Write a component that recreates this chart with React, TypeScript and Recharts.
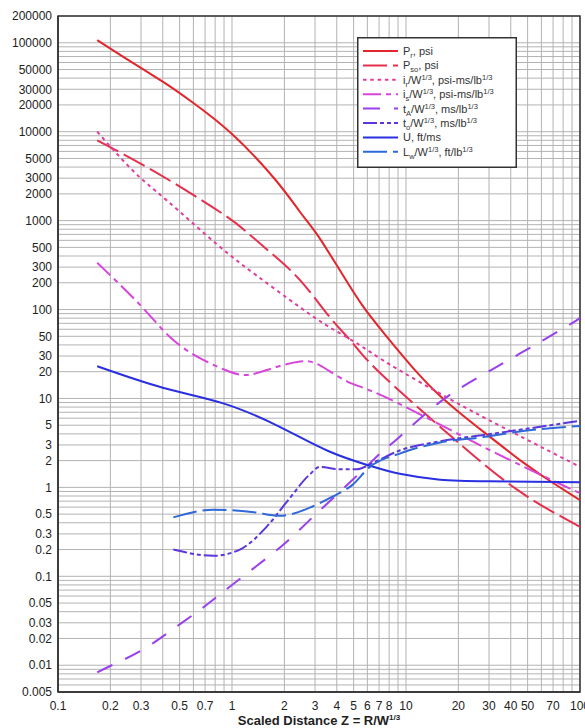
import React from 'react';
import { LineChart, Line, XAxis, YAxis, CartesianGrid, Legend, ReferenceArea } from 'recharts';

// ---- data (Scaled distance Z vs parameter) ----
const prZ = [0.168, 0.236, 0.4, 0.6, 1.0, 1.77, 2.46, 3.08, 4.15, 5.6, 7.6, 11.6, 15.6, 20, 28.4, 48, 70, 100];
const prVal = [107000, 70000, 36500, 21000, 9400, 2900, 1250, 700, 280, 112, 52, 19.5, 10.8, 7.1, 4.1, 1.86, 1.12, 0.72];

const psoZ = [0.168, 0.37, 0.853, 1.22, 1.66, 2.46, 3.65, 4.94, 7.1, 18.3, 43.9, 100];
const psoVal = [8000, 3440, 1250, 740, 440, 214, 82, 42, 19.3, 3.7, 0.93, 0.36];

const irZ = [0.168, 0.27, 0.42, 0.82, 1.39, 2.46, 3.65, 5.4, 8.1, 18.3, 35.6, 100];
const irVal = [10000, 3630, 1700, 540, 240, 106, 63, 40, 24, 9.6, 4.8, 1.7];

const isZ = [0.168, 0.296, 0.44, 0.65, 0.97, 1.27, 1.72, 2.46, 3.2, 4.6, 7.9, 28.4, 100];
const isVal = [335, 113, 49, 28.6, 20, 18.5, 22, 26, 23.5, 15.5, 10, 2.8, 0.86];

const taZ = [0.168, 0.204, 0.304, 0.452, 0.67, 1.0, 1.88, 2.9, 4.9, 7.4, 8.9, 15.3, 31, 82, 100];
const taVal = [0.0083, 0.01, 0.0148, 0.025, 0.0434, 0.08, 0.21, 0.46, 1.2, 2.6, 3.5, 8.8, 21, 63, 82];

const toZ = [0.46, 0.78, 1.11, 1.58, 2.07, 2.8, 3.2, 4.1, 5.2, 6.5, 9.2, 15.7, 28.4, 47, 100];
const toVal = [0.2, 0.17, 0.2, 0.36, 0.69, 1.4, 1.7, 1.6, 1.6, 1.9, 2.6, 3.3, 3.9, 4.5, 5.6];

const uZ = [0.168, 0.4, 0.89, 1.88, 3.6, 6.2, 9.2, 15.7, 30, 100];
const uVal = [23, 13.2, 8.8, 4.8, 2.55, 1.75, 1.42, 1.22, 1.17, 1.14];

const lwZ = [0.46, 0.78, 1.3, 1.88, 2.2, 2.9, 3.8, 4.9, 6.2, 9.2, 15.7, 28.4, 47, 100];
const lwVal = [0.46, 0.56, 0.53, 0.48, 0.5, 0.61, 0.79, 1.06, 1.7, 2.4, 3.2, 3.7, 4.3, 4.9];

const xTicks = [0.1, 0.2, 0.3, 0.5, 0.7, 1, 2, 3, 4, 5, 6, 7, 8, 10, 20, 30, 40, 50, 70, 100];
const yTicks = [0.005, 0.01, 0.02, 0.03, 0.05, 0.1, 0.2, 0.3, 0.5, 1, 2, 3, 5, 10, 20, 30, 50, 100, 200, 300, 500,
  1000, 2000, 3000, 5000, 10000, 20000, 30000, 50000, 100000, 200000];

const X_MIN = 0.1, X_MAX = 100, Y_MIN = 0.005, Y_MAX = 200000;

// minor log grid values
const xGrid: number[] = [];
for (let e = -1; e <= 1; e++) for (let k = 1; k <= 9; k++) xGrid.push(parseFloat((k * Math.pow(10, e)).toPrecision(6)));
xGrid.push(100);
const yGrid: number[] = [];
for (let e = -3; e <= 5; e++) for (let k = 1; k <= 9; k++) {
  const v = parseFloat((k * Math.pow(10, e)).toPrecision(6));
  if (v >= Y_MIN && v <= Y_MAX) yGrid.push(v);
}

const toPoints = (zs: number[], vs: number[]) => zs.map((z, i) => ({ z, v: vs[i] }));

type Seg = { t: string; s?: 'sub' | 'sup' };
type Curve = 'natural' | 'monotone';

const series: { id: string; color: string; dash?: string; curve: Curve; label: Seg[]; data: { z: number; v: number }[] }[] = [
  { id: 'pr', color: '#e2262c', curve: 'natural', label: [{ t: 'P' }, { t: 'r', s: 'sub' }, { t: ', psi' }], data: toPoints(prZ, prVal) },
  { id: 'pso', color: '#e6304e', dash: '24 6', curve: 'natural', label: [{ t: 'P' }, { t: 'so', s: 'sub' }, { t: ', psi' }], data: toPoints(psoZ, psoVal) },
  { id: 'ir', color: '#e23c9c', dash: '3.5 3.8', curve: 'natural', label: [{ t: 'i' }, { t: 'r', s: 'sub' }, { t: '/W' }, { t: '1/3', s: 'sup' }, { t: ', psi-ms/lb' }, { t: '1/3', s: 'sup' }], data: toPoints(irZ, irVal) },
  { id: 'is', color: '#d844dc', dash: '18 5 5 5', curve: 'natural', label: [{ t: 'i' }, { t: 's', s: 'sub' }, { t: '/W' }, { t: '1/3', s: 'sup' }, { t: ', psi-ms/lb' }, { t: '1/3', s: 'sup' }], data: toPoints(isZ, isVal) },
  { id: 'ta', color: '#9a40ec', dash: '17 14', curve: 'natural', label: [{ t: 't' }, { t: 'A', s: 'sub' }, { t: '/W' }, { t: '1/3', s: 'sup' }, { t: ', ms/lb' }, { t: '1/3', s: 'sup' }], data: toPoints(taZ, taVal) },
  { id: 'to', color: '#5c36dc', dash: '14 3 4 3 4 3', curve: 'monotone', label: [{ t: 't' }, { t: 'o', s: 'sub' }, { t: '/W' }, { t: '1/3', s: 'sup' }, { t: ', ms/lb' }, { t: '1/3', s: 'sup' }], data: toPoints(toZ, toVal) },
  { id: 'u', color: '#2a30e2', curve: 'natural', label: [{ t: 'U, ft/ms' }], data: toPoints(uZ, uVal) },
  { id: 'lw', color: '#2f68d8', dash: '24 6', curve: 'monotone', label: [{ t: 'L' }, { t: 'w', s: 'sub' }, { t: '/W' }, { t: '1/3', s: 'sup' }, { t: ', ft/lb' }, { t: '1/3', s: 'sup' }], data: toPoints(lwZ, lwVal) },
];

const FONT = '"Liberation Sans", Arial, sans-serif';

function renderSegs(segs: Seg[]) {
  let cur = 0;
  return segs.map((sg, i) => {
    const target = sg.s === 'sub' ? 3 : sg.s === 'sup' ? -4 : 0;
    const dy = target - cur;
    cur = target;
    return (
      <tspan key={i} dy={dy} fontSize={sg.s ? 7.5 : 11}>
        {sg.t}
      </tspan>
    );
  });
}

const LegendBox = () => (
  <svg width={160} height={131} style={{ display: 'block' }}>
    <rect x={0.75} y={0.75} width={158.5} height={129.5} fill="#fff" stroke="#333" strokeWidth={1.5} />
    {series.map((s, i) => {
      const y = 14 + i * 14.4;
      return (
        <g key={s.id}>
          <line x1={6} x2={41} y1={y} y2={y} stroke={s.color} strokeWidth={2} strokeDasharray={s.dash} />
          <text x={46} y={y + 4} fontFamily={FONT} fontSize={11} fill="#333">
            {renderSegs(s.label)}
          </text>
        </g>
      );
    })}
  </svg>
);

const XTitle = (props: any) => {
  const vb = props.viewBox || { x: 58, y: 692, width: 522, height: 36 };
  const cx = vb.x + vb.width / 2;
  return (
    <text x={cx} y={vb.y + 32.5} textAnchor="middle" fontFamily={FONT} fontSize={13} fontWeight="bold" fill="#222">
      <tspan>Scaled Distance Z = R/W</tspan>
      <tspan dy={-5} fontSize={8}>1/3</tspan>
    </text>
  );
};

export default function App() {
  return (
    <div style={{ position: 'absolute', left: 0, top: 0, width: 585, height: 728, overflow: 'hidden', background: '#fff' }}>
      <LineChart width={585} height={728} margin={{ top: 16, right: 5, bottom: 0, left: 8 }} style={{ fontFamily: FONT }}>
        <CartesianGrid stroke="#b3b3b3" strokeWidth={1} verticalValues={xGrid} horizontalValues={yGrid} />
        <XAxis
          dataKey="z"
          type="number"
          scale="log"
          domain={[X_MIN, X_MAX]}
          allowDataOverflow
          ticks={xTicks}
          interval={0}
          tickFormatter={(v: number) => String(v)}
          tick={{ fontSize: 12, fill: '#222', fontFamily: FONT }}
          tickLine={false}
          tickSize={4}
          tickMargin={5}
          axisLine={{ stroke: '#333', strokeWidth: 1.5 }}
          height={36}
          label={{ content: (p: any) => <XTitle {...p} /> }}
        />
        <YAxis
          dataKey="v"
          type="number"
          scale="log"
          domain={[Y_MIN, Y_MAX]}
          allowDataOverflow
          ticks={yTicks}
          interval={0}
          tickFormatter={(v: number) => String(v)}
          tick={{ fontSize: 12, fill: '#222', fontFamily: FONT }}
          tickLine={false}
          tickSize={4}
          tickMargin={2}
          axisLine={{ stroke: '#333', strokeWidth: 1.5 }}
          width={50}
        />
        {series.map((s) => (
          <Line
            key={s.id}
            data={s.data}
            dataKey="v"
            type={s.curve}
            stroke={s.color}
            strokeWidth={2}
            strokeDasharray={s.dash}
            dot={false}
            activeDot={false}
            isAnimationActive={false}
          />
        ))}
        <ReferenceArea x1={X_MIN} x2={X_MAX} y1={Y_MIN} y2={Y_MAX} fill="none" fillOpacity={0} stroke="#333" strokeWidth={1.5} />
        <Legend
          layout="horizontal"
          verticalAlign="middle"
          align="center"
          content={() => <LegendBox />}
          wrapperStyle={{ left: 357, top: 37, width: 160, height: 131 }}
        />
      </LineChart>
    </div>
  );
}
